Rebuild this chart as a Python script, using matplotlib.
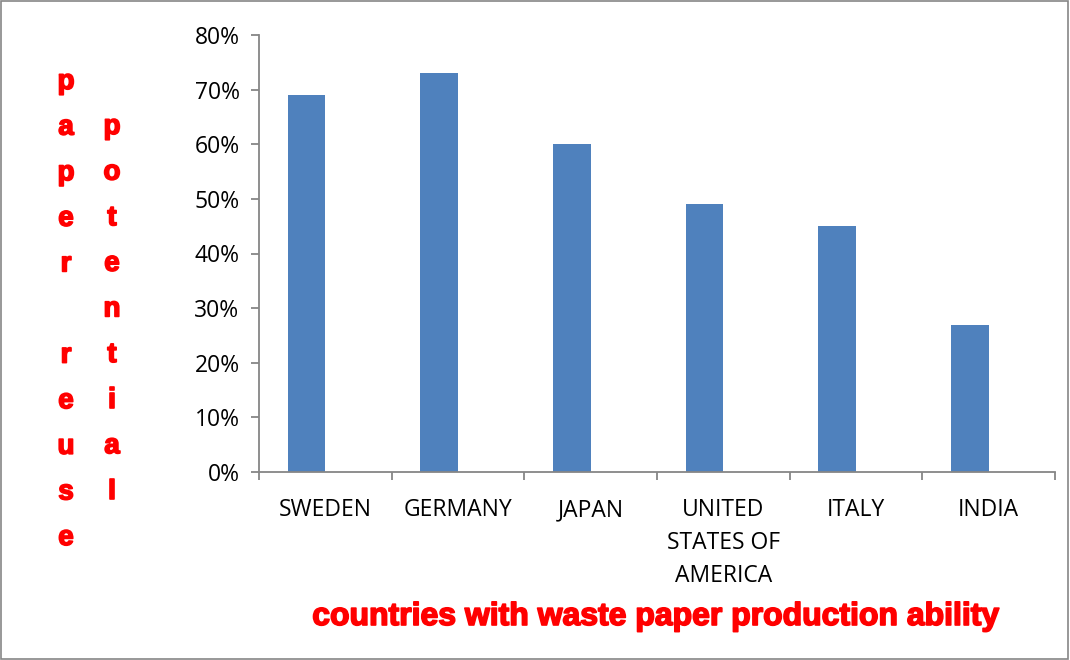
import matplotlib.pyplot as plt
import matplotlib.patheffects as pe
from matplotlib.patches import Rectangle

# data
countries = ['SWEDEN', 'GERMANY', 'JAPAN', 'UNITED\nSTATES OF\nAMERICA', 'ITALY', 'INDIA']
reuse_share = [69, 73, 60, 49, 45, 27]
y_ticks = [0, 10, 20, 30, 40, 50, 60, 70, 80]
ylabel_left = 'paper reuse'
ylabel_right = 'potential'
xlabel = 'countries with waste paper production ability'

fig = plt.figure(figsize=(10.7, 6.6), dpi=100)
ax = fig.add_axes([259 / 1070, 1 - 472 / 660, (1055 - 259) / 1070, (472 - 35) / 660])

# bars sit left of the category centre (excel clustered style)
x = list(range(len(countries)))
ax.bar(x, reuse_share, width=-0.285, align='edge', color='#4F81BD')

ax.set_xlim(-0.5, len(countries) - 0.5)
ax.set_ylim(0, 80)
ax.set_yticks(y_ticks)
ax.set_yticklabels([f'{v}%' for v in y_ticks], fontfamily='Open Sans', fontsize=16.5)

# category labels centred, ticks on the category borders
ax.set_xticks(x)
ax.set_xticklabels(countries, fontfamily='Open Sans', fontsize=16.5, linespacing=1.5)
ax.set_xticks([i - 0.5 for i in range(len(countries) + 1)], minor=True)
ax.tick_params(axis='x', which='major', length=0, pad=19)
ax.tick_params(axis='x', which='minor', length=6, color='#868686', width=1.3)
ax.tick_params(axis='y', length=6, color='#868686', width=1.3, pad=8)

for side in ['top', 'right']:
    ax.spines[side].set_visible(False)
for side in ['left', 'bottom']:
    ax.spines[side].set_color('#868686')
    ax.spines[side].set_linewidth(1.3)

# heavy red lettering (thickened with a light stroke)
heavy = [pe.withStroke(linewidth=1.2, foreground='red')]

# stacked red letters used as the y label
step = 45.6 / 660
for i, ch in enumerate(ylabel_left):
    fig.text(66 / 1070, 1 - 82 / 660 - i * step, ch, color='red', fontweight='bold',
             fontfamily='Liberation Sans', fontsize=20, ha='center', va='center',
             path_effects=heavy)
for i, ch in enumerate(ylabel_right):
    fig.text(112 / 1070, 1 - 127 / 660 - i * step, ch, color='red', fontweight='bold',
             fontfamily='Liberation Sans', fontsize=20, ha='center', va='center',
             path_effects=heavy)

fig.text(656 / 1070, 1 - 617 / 660, xlabel, color='red', fontweight='bold',
         fontfamily='Liberation Sans', fontsize=23, ha='center', va='center',
         path_effects=heavy)

# thin grey frame around the whole chart
fig.patches.append(Rectangle((0.001, 0.002), 0.997, 0.996, transform=fig.transFigure,
                             fill=False, edgecolor='#868686', linewidth=1.2))

fig.savefig('out.png', dpi=100)
